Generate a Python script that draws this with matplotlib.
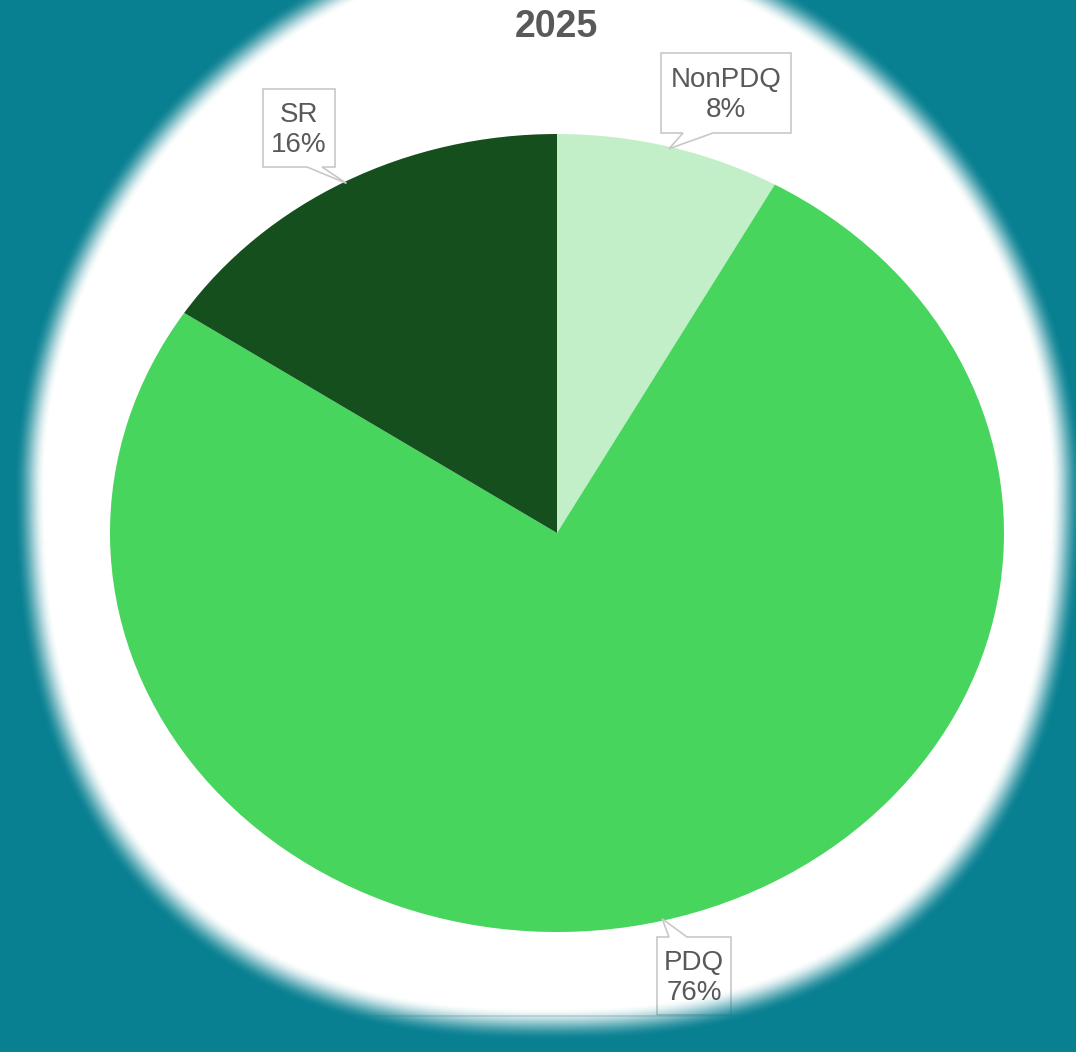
import numpy as np
import matplotlib
matplotlib.use("Agg")
import matplotlib.pyplot as plt
from matplotlib.patches import Polygon

# ---------------- data ----------------
title = "2025"
categories = ["NonPDQ", "PDQ", "SR"]
shares = [8.1, 76.2, 15.7]
slice_colors = ["#C2EFC8", "#47D55D", "#164F1E"]

# ---------------- layout (pixels) ----------------
W, H = 1076, 1052
TEAL = np.array([8, 128, 145]) / 255.0
TEXT_GRAY = "#595959"
pie_px = (110, 134, 1004, 932)  # left, top, right, bottom
# callout boxes: left, top, right, bottom, tail side, tail base x1, x2
callouts = {
    "NonPDQ": (661, 53, 791, 133, "bottom", 683, 713),
    "PDQ": (657, 937, 731, 1015, "top", 669, 687),
    "SR": (263, 89, 335, 167, "bottom", 307, 322),
}

fig = plt.figure(figsize=(W / 100, H / 100), dpi=100, facecolor="white")

ax = fig.add_axes([pie_px[0] / W, 1 - pie_px[3] / H,
                   (pie_px[2] - pie_px[0]) / W, (pie_px[3] - pie_px[1]) / H])
wedges, _ = ax.pie(shares, colors=slice_colors, startangle=90, counterclock=False,
                   radius=1, wedgeprops=dict(linewidth=0))
ax.set_aspect("auto")
ax.set_xlim(-1, 1)
ax.set_ylim(-1, 1)
ax.axis("off")

ov = fig.add_axes([0, 0, 1, 1], zorder=5)
ov.set_facecolor("none")

# chart frame line (partly visible at bottom)
ov.plot([0, W], [1016, 1016], color="#D9D9D9", lw=1.2, zorder=1)

# callouts
total = sum(shares)
for cat, share, w in zip(categories, shares, wedges):
    mid = np.deg2rad((w.theta1 + w.theta2) / 2)
    disp = ax.transData.transform((np.cos(mid) * 0.995, np.sin(mid) * 0.995))
    L, T, R, B, side, b1, b2 = callouts[cat]
    px, py = disp[0], H - disp[1]
    if side == "bottom":
        verts = [(L, T), (R, T), (R, B), (b2, B), (px, py), (b1, B), (L, B)]
    else:
        verts = [(L, T), (b1, T), (px, py), (b2, T), (R, T), (R, B), (L, B)]
    ov.add_patch(Polygon(verts, closed=True, facecolor="white", edgecolor="#C8C8C8",
                         lw=1.2, zorder=2, joinstyle="miter"))
    pct = round(100 * share / total)
    ov.text((L + R) / 2, (T + B) / 2 + 2, f"{cat}\n{pct}%", ha="center", va="center",
            fontsize=20, color=TEXT_GRAY, family=["Liberation Sans", "DejaVu Sans"],
            linespacing=1.2, zorder=3)

# vignette
yy, xx = np.mgrid[0:H, 0:W] + 0.5
dx = np.abs(xx - 548) / 518
dyr = (yy - 482) / 542
p = np.where(dyr > 0, 2.4, 1.9)
r = (dx ** p + np.abs(dyr) ** p) ** (1 / p)
sd = (r - 1) * 530
t = np.clip((sd + 16) / 32, 0, 1)
alpha = t * t * (3 - 2 * t)
img = np.zeros((H, W, 4))
img[..., :3] = TEAL
img[..., 3] = alpha
ov.imshow(img, extent=(0, W, H, 0), origin="upper", aspect="auto",
          interpolation="bilinear", zorder=4)

ov.text(556, 27, title, ha="center", va="center", fontsize=27, fontweight="bold",
        color=TEXT_GRAY, family=["Liberation Sans", "DejaVu Sans"], zorder=6)

ov.set_xlim(0, W)
ov.set_ylim(H, 0)
ov.axis("off")

fig.savefig("out.png", dpi=100, facecolor="white")
